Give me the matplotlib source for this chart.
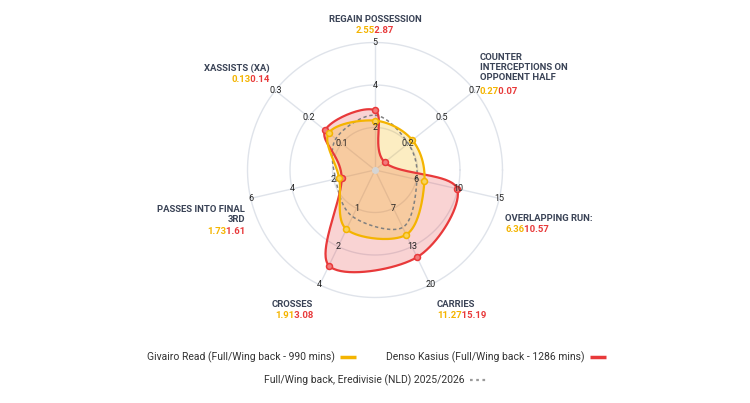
import numpy as np
import matplotlib.pyplot as plt
from matplotlib.transforms import Bbox

plt.rcParams['font.family'] = ['Roboto', 'DejaVu Sans']

#--------------------------------------------
# Data
#--------------------------------------------
metrics = ['REGAIN POSSESSION',
           'COUNTER\nINTERCEPTIONS ON\nOPPONENT HALF',
           'OVERLAPPING RUN:',
           'CARRIES',
           'CROSSES',
           'PASSES INTO FINAL\n3RD',
           'XASSISTS (XA)']
scale_min = [1.0, 0.0, 0.0, 0.0, 0.0, 0.0, 0.0]
scale_max = [5.0, 0.72, 16.0, 20.0, 3.7, 6.0, 0.28]
tick_labels = [['2', '4', '5'],
               ['0.2', '0.5', '0.7'],
               ['6', '10', '15'],
               ['7', '13', '20'],
               ['1', '2', '4'],
               ['2', '4', '6'],
               ['0.1', '0.2', '0.3']]
read_values = [2.55, 0.27, 6.36, 11.27, 1.91, 1.73, 0.13]
kasius_values = [2.87, 0.07, 10.57, 15.19, 3.08, 1.61, 0.14]
league_values = [2.72, 0.24, 5.4, 10.0, 1.5, 1.9, 0.11]

read_name = 'Givairo Read (Full/Wing back - 990 mins)'
kasius_name = 'Denso Kasius (Full/Wing back - 1286 mins)'
league_name = 'Full/Wing back, Eredivisie (NLD) 2025/2026'

YELLOW = '#f4b400'
RED = '#e8393a'
GRID = '#dfe3ea'
LABEL = '#3a4356'

#--------------------------------------------
# Layout helpers (pixel space of a 750x403 image)
#--------------------------------------------
W, H = 750, 403
CX, CY, R = 375, 170, 127.5


def px(x, y):
    '''pixel position (from top-left) -> data coords (center at 0, radius 1)'''
    return (x - CX) / R, (CY - y) / R


def to_xy(values):
    n = len(values)
    ang = np.pi / 2 - np.arange(n) * 2 * np.pi / n
    frac = [(v - lo) / (hi - lo) for v, lo, hi in zip(values, scale_min, scale_max)]
    frac = np.array(frac)
    return frac * np.cos(ang), frac * np.sin(ang)


def smooth_closed(x, y, n=40):
    '''closed Catmull-Rom spline through the points'''
    pts = np.column_stack([x, y])
    k = len(pts)
    t = np.linspace(0, 1, n, endpoint=False)[:, None]
    h00 = 2 * t**3 - 3 * t**2 + 1
    h10 = t**3 - 2 * t**2 + t
    h01 = -2 * t**3 + 3 * t**2
    h11 = t**3 - t**2
    out = []
    for i in range(k):
        p0, p1, p2, p3 = pts[(i - 1) % k], pts[i], pts[(i + 1) % k], pts[(i + 2) % k]
        m1 = (p2 - p0) / 2
        m2 = (p3 - p1) / 2
        out.append(h00 * p1 + h10 * m1 + h01 * p2 + h11 * m2)
    out = np.vstack(out + [pts[:1]])
    return out[:, 0], out[:, 1]


fig = plt.figure(figsize=(W / 100, H / 100), dpi=100)
ax = fig.add_axes([0, 0, 1, 1])
ax.set_xlim(-CX / R, (W - CX) / R)
ax.set_ylim(-(H - CY) / R, CY / R)
ax.axis('off')
renderer = fig.canvas.get_renderer()

n = len(metrics)
angles = np.pi / 2 - np.arange(n) * 2 * np.pi / n

# grid rings and spokes
theta = np.linspace(0, 2 * np.pi, 300)
for ring in [1 / 3, 2 / 3, 1.0]:
    ax.plot(ring * np.cos(theta), ring * np.sin(theta), color=GRID, lw=1, zorder=1)
for a in angles:
    ax.plot([0, np.cos(a)], [0, np.sin(a)], color=GRID, lw=1, zorder=1)

# series
for vals, col, alpha in [(kasius_values, RED, 0.22), (read_values, YELLOW, 0.24)]:
    x, y = to_xy(vals)
    sx, sy = smooth_closed(x, y)
    ax.fill(sx, sy, color=col, alpha=alpha, lw=0, zorder=2)

x, y = to_xy(league_values)
sx, sy = smooth_closed(x, y)
ax.plot(sx, sy, color='#808080', lw=1.1, dashes=(2.2, 1.8), zorder=3)

for vals, col, face in [(kasius_values, RED, '#f27b7b'), (read_values, YELLOW, '#f8d35c')]:
    x, y = to_xy(vals)
    sx, sy = smooth_closed(x, y)
    ax.plot(sx, sy, color=col, lw=1.6, zorder=4)
    ax.plot(x, y, 'o', ms=4.3, mfc=face, mec=col, mew=1.1, zorder=5)

ax.plot([0], [0], 'o', ms=4, color='#d5d5d5', zorder=5)

# tick labels on each spoke
for a, labs in zip(angles, tick_labels):
    for ring, lab in zip([1 / 3, 2 / 3, 1.0], labs):
        ax.text(ring * np.cos(a), ring * np.sin(a), lab, fontsize=6.5, color='#222222',
                ha='center', va='center', zorder=6)

# metric names and values
# values: the joined string is drawn twice and clipped, yellow left / red right
label_pos = [(375, 19, 'center'), (480, 57, 'left'), (505, 218, 'left'),
             (437, 304, 'left'), (313, 304, 'right'), (245, 209, 'right'),
             (270, 68, 'right')]
vprops = dict(fontsize=6.8, fontweight='bold', va='center')
for name, (lx, ly, ha), rv, kv in zip(metrics, label_pos, read_values, kasius_values):
    nlines = name.count('\n') + 1
    tx, ty = px(lx, ly - 4)
    ax.text(tx, ty, name, fontsize=6.8, fontweight='bold', color=LABEL, ha=ha,
            va='top', linespacing=1.15, multialignment=ha)
    s1, s2 = f'{rv:.2f}', f'{kv:.2f}'
    vx, vy = px(lx, ly + 11.5 * nlines)
    t_yel = ax.text(vx, vy, s1 + s2, color=YELLOW, ha=ha, **vprops)
    t_red = ax.text(vx, vy, s1 + s2, color=RED, ha=ha, **vprops)
    probe = ax.text(vx, vy, s1, ha='left', **vprops)
    w1 = probe.get_window_extent(renderer).width
    probe.remove()
    full = t_yel.get_window_extent(renderer)
    split = full.x0 + w1
    t_yel.set_clip_box(Bbox([[0, 0], [split, H]]))
    t_red.set_clip_box(Bbox([[split, 0], [W, H]]))
    t_yel.set_clip_on(True)
    t_red.set_clip_on(True)

# legend
legend_rows = [(read_name, YELLOW, 335, 357, 'solid'),
               (kasius_name, RED, 585, 357, 'solid'),
               (league_name, '#9a9a9a', 465, 380, 'dotted')]
for name, col, ex, ey, style in legend_rows:
    tx, ty = px(ex, ey)
    ax.text(tx, ty, name, fontsize=7.5, color='#333333', ha='right', va='center')
    x0, y0 = px(ex + 5, ey)
    x1, _ = px(ex + 21, ey)
    if style == 'solid':
        ax.plot([x0, x1], [y0, y0], color=col, lw=2.5, solid_capstyle='butt')
    else:
        ax.plot([x0, x1], [y0, y0], color=col, lw=1.6, dashes=(1.2, 1.6))

fig.savefig('out.png', dpi=100)
